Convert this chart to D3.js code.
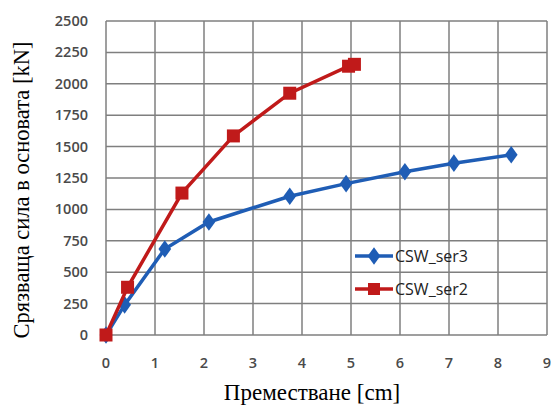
<!DOCTYPE html>
<html>
<head>
<meta charset="utf-8">
<script src="https://cdn.jsdelivr.net/npm/d3@7"></script>
<style>
  body { margin: 0; background: #fff; }
</style>
</head>
<body>
<div id="chart"></div>
<script>
const ser3X = [0, 0.38, 1.2, 2.1, 3.75, 4.9, 6.1, 7.1, 8.27];
const ser3Y = [0, 240, 685, 900, 1105, 1205, 1300, 1368, 1435];
const ser2X = [0, 0.44, 1.55, 2.6, 3.75, 4.95, 5.07];
const ser2Y = [0, 380, 1130, 1585, 1925, 2140, 2155];
const xTicks = [0, 1, 2, 3, 4, 5, 6, 7, 8, 9];
const yTicks = [0, 250, 500, 750, 1000, 1250, 1500, 1750, 2000, 2250, 2500];

const width = 551, height = 405;
const margin = { left: 106, right: 4, top: 21, bottom: 70 };

const svg = d3.select("#chart").append("svg")
    .attr("width", width)
    .attr("height", height);

const x = d3.scaleLinear().domain([0, 9]).range([margin.left, 547]);
const y = d3.scaleLinear().domain([0, 2500]).range([335, margin.top]);

// grid
svg.append("g").selectAll("line.v")
    .data(xTicks)
    .enter().append("line")
    .attr("x1", d => x(d)).attr("x2", d => x(d))
    .attr("y1", y(0)).attr("y2", y(2500))
    .attr("stroke", "#7f7f7f").attr("stroke-width", 1.5);

svg.append("g").selectAll("line.h")
    .data(yTicks)
    .enter().append("line")
    .attr("x1", x(0)).attr("x2", x(9))
    .attr("y1", d => y(d)).attr("y2", d => y(d))
    .attr("stroke", "#7f7f7f").attr("stroke-width", 1.5);

// tick labels
svg.append("g").selectAll("text")
    .data(yTicks)
    .enter().append("text")
    .attr("x", 88)
    .attr("y", d => y(d))
    .attr("dy", "0.35em")
    .attr("text-anchor", "end")
    .style("font-family", "'Open Sans', sans-serif")
    .style("font-size", "14.5px")
    .style("font-weight", "600")
    .style("fill", "#4a4a4a")
    .text(d => d);

svg.append("g").selectAll("text")
    .data(xTicks)
    .enter().append("text")
    .attr("x", d => x(d))
    .attr("y", 363)
    .attr("dy", "0.35em")
    .attr("text-anchor", "middle")
    .style("font-family", "'Open Sans', sans-serif")
    .style("font-size", "14.5px")
    .style("font-weight", "600")
    .style("fill", "#4a4a4a")
    .text(d => d);

// axis titles
svg.append("text")
    .attr("x", 312)
    .attr("y", 400)
    .attr("text-anchor", "middle")
    .style("font-family", "'Liberation Serif', serif")
    .style("font-size", "23px")
    .text("Преместване [cm]");

svg.append("text")
    .attr("transform", "translate(29, 190) rotate(-90)")
    .attr("text-anchor", "middle")
    .style("font-family", "'Liberation Serif', serif")
    .style("font-size", "22.5px")
    .text("Срязваща сила в основата [kN]");

const line = d3.line()
    .x(d => x(d[0]))
    .y(d => y(d[1]));

const blue = "#1f5db5";
const red = "#c01a1a";

const ser3 = ser3X.map((v, i) => [v, ser3Y[i]]);
const ser2 = ser2X.map((v, i) => [v, ser2Y[i]]);

svg.append("path")
    .datum(ser3)
    .attr("d", line)
    .attr("fill", "none")
    .attr("stroke", blue)
    .attr("stroke-width", 3.5);

const diamond = d3.symbol().type(d3.symbolDiamond).size(90);
svg.append("g").selectAll("path")
    .data(ser3)
    .enter().append("path")
    .attr("d", diamond)
    .attr("transform", d => `translate(${x(d[0])},${y(d[1])}) scale(1.25,1)`)
    .attr("fill", blue);

svg.append("path")
    .datum(ser2)
    .attr("d", line)
    .attr("fill", "none")
    .attr("stroke", red)
    .attr("stroke-width", 3.5);

svg.append("g").selectAll("rect")
    .data(ser2)
    .enter().append("rect")
    .attr("x", d => x(d[0]) - 6.5)
    .attr("y", d => y(d[1]) - 6.5)
    .attr("width", 13)
    .attr("height", 13)
    .attr("fill", red);

// legend
const legend = svg.append("g").attr("transform", "translate(355, 256)");
const items = [
    { name: "CSW_ser3", color: blue, mark: "diamond" },
    { name: "CSW_ser2", color: red, mark: "square" }
];
const li = legend.selectAll("g")
    .data(items)
    .enter().append("g")
    .attr("transform", (d, i) => `translate(0, ${i * 33})`);

li.append("line")
    .attr("x1", 0).attr("x2", 38)
    .attr("stroke", d => d.color)
    .attr("stroke-width", 3.5);

li.filter(d => d.mark === "diamond").append("path")
    .attr("d", diamond)
    .attr("transform", "translate(19,0) scale(1.25,1)")
    .attr("fill", d => d.color);

li.filter(d => d.mark === "square").append("rect")
    .attr("x", 13).attr("y", -6)
    .attr("width", 12).attr("height", 12)
    .attr("fill", d => d.color);

li.append("text")
    .attr("x", 40)
    .attr("dy", "0.35em")
    .style("font-family", "'Open Sans', sans-serif")
    .style("font-size", "16px")
    .style("fill", "#222")
    .text(d => d.name);
</script>
</body>
</html>
